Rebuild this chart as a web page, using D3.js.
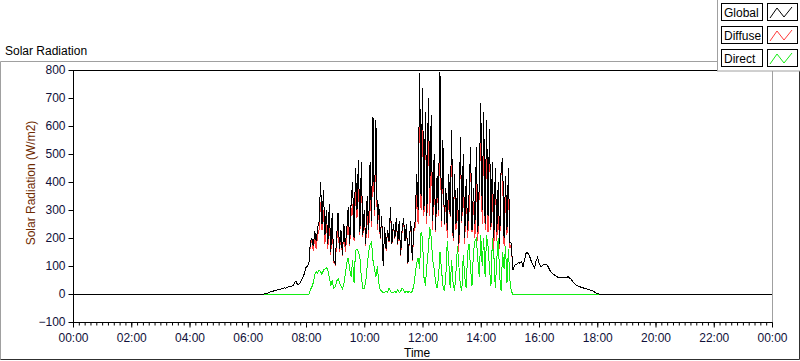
<!DOCTYPE html>
<html>
<head>
<meta charset="utf-8">
<script src="https://cdn.jsdelivr.net/npm/d3@7"></script>
<style>
html,body{margin:0;padding:0;background:#fff;}
svg{display:block;font-family:"Liberation Sans",Arial,sans-serif;}
</style>
</head>
<body>
<svg id="chart" width="800" height="361"></svg>
<script>
// ---- data ----
const chartTitle = "Solar Radiation";
const yAxisTitle = "Solar Radiation (W/m2)";
const xAxisTitle = "Time";
const seriesNames = ["Global", "Diffuse", "Direct"];
const xTickLabels = ["00:00","02:00","04:00","06:00","08:00","10:00","12:00","14:00","16:00","18:00","20:00","22:00","00:00"];
const yTickValues = [-100,0,100,200,300,400,500,600,700,800];
const dayMinutes = 1440;
const startMin = 390;   // first sample 06:30
const stepMin = 3;      // sample spacing, minutes

const globalVals = [
0,0,1,2,4,6,8,10,11,12,14,15,17,18,20,22,21,24,26,25,28,30,38,46,36,34,40,52,60,75,
95,100,110,185,200,170,225,190,235,260,400,250,370,210,300,180,320,150,290,120,
110,200,290,160,230,140,250,170,230,310,180,330,400,200,450,300,480,220,470,210,
300,180,350,230,470,260,632,300,622,250,320,200,280,100,240,160,230,190,310,180,
250,200,270,180,260,140,230,270,190,250,110,200,260,120,230,260,430,300,790,350,
735,300,650,280,700,380,640,260,500,230,420,300,793,260,550,250,380,230,430,280,
585,200,430,250,380,180,560,260,500,200,410,230,360,525,230,380,250,525,220,400,
682,300,650,250,620,280,590,240,470,200,450,220,400,180,454,485,200,420,230,450,185,180,85,100,
105,108,112,110,116,96,120,145,149,140,128,112,102,92,118,131,112,98,100,106,
107,106,100,90,80,74,70,67,63,60,59,58,58,59,61,58,62,57,54,45,
40,34,31,28,26,24,22,21,19,18,16,14,13,11,8,4,1,0,0,0
];
const diffuseVals = [
0,0,1,2,4,6,8,10,11,12,14,15,17,18,20,22,21,24,26,25,28,30,38,46,36,34,40,52,60,75,
95,100,110,178,190,155,200,160,210,230,330,230,300,180,260,160,270,140,260,115,
105,180,250,150,220,135,240,150,200,260,170,290,320,190,380,270,410,210,430,205,
295,170,310,200,400,240,560,280,590,230,305,195,275,100,235,155,225,185,300,178,
248,195,268,175,258,135,225,265,188,245,108,195,258,118,220,240,360,250,720,300,
600,280,640,250,620,280,560,230,460,220,410,280,700,240,530,245,350,200,390,275,
520,190,425,230,330,150,540,255,440,180,400,200,300,480,220,330,200,440,190,370,
580,250,560,230,520,220,550,230,390,160,440,190,310,160,450,420,170,350,210,390,165,175,85,100,
105,108,112,110,116,96,120,145,149,140,128,112,102,92,118,131,112,98,100,106,
107,106,100,90,80,74,70,67,63,60,59,58,58,59,61,58,62,57,54,45,
40,34,31,28,26,24,22,21,19,18,16,14,13,11,8,4,1,0,0,0
];
const directVals = [
0,0,0,0,0,0,0,0,0,0,0,0,0,0,0,0,0,0,0,0,0,0,0,0,0,0,0,0,0,0,
0,0,0,15,25,40,70,80,75,85,80,70,85,90,95,85,60,30,50,20,
25,45,55,40,30,20,35,70,110,130,90,60,120,40,155,160,150,130,60,20,
20,40,100,150,175,185,120,90,60,100,40,15,10,5,5,10,5,20,10,5,
5,10,5,15,5,10,20,15,5,10,5,10,5,10,30,70,110,130,90,220,
200,60,30,100,160,240,200,120,90,40,20,60,150,90,30,10,60,190,120,20,
120,40,10,80,170,100,30,10,140,60,20,150,180,90,30,150,190,200,120,60,
210,100,200,60,210,170,90,30,200,140,20,120,200,60,10,150,90,170,40,160,50,10,0,0,
0,0,0,0,0,0,0,0,0,0,0,0,0,0,0,0,0,0,0,0,
0,0,0,0,0,0,0,0,0,0,0,0,0,0,0,0,0,0,0,0,
0,0,0,0,0,0,0,0,0,0,0,0,0,0,0,0,0,0,0,0
];

// ---- layout ----
const L = 73, R = 772, T = 70, B = 322;
const colors = {Global:"#000000", Diffuse:"#ff3c3c", Direct:"#14ec14"};
const svg = d3.select("#chart");

const x = d3.scaleLinear().domain([0, dayMinutes]).range([L, R]);
const y = d3.scaleLinear().domain([-100, 800]).range([B, T]);

function toSeries(vals){
  const pts = [{t:0, v:0}];
  vals.forEach((v,i)=>pts.push({t:startMin + i*stepMin, v:v}));
  pts.push({t:dayMinutes, v:0});
  return pts;
}
const series = {Global: toSeries(globalVals), Diffuse: toSeries(diffuseVals), Direct: toSeries(directVals)};

// outer panel
svg.append("line").attr("x1",0.5).attr("x2",799.5).attr("y1",61.5).attr("y2",61.5).attr("stroke","#a0a0a0");
svg.append("line").attr("x1",0.5).attr("x2",0.5).attr("y1",61.5).attr("y2",359.5).attr("stroke","#a0a0a0");
svg.append("line").attr("x1",0.5).attr("x2",799.5).attr("y1",359.5).attr("y2",359.5).attr("stroke","#303030");
svg.append("line").attr("x1",799.5).attr("x2",799.5).attr("y1",61.5).attr("y2",359.5).attr("stroke","#303030");

svg.append("text").attr("x",5).attr("y",55).attr("font-size",12).attr("fill","#000").text(chartTitle);

// plot background
svg.append("rect").attr("x",L).attr("y",T).attr("width",R-L).attr("height",B-T).attr("fill","#fff");

svg.append("defs").append("clipPath").attr("id","clip")
  .append("rect").attr("x",L).attr("y",T).attr("width",R-L+1).attr("height",B-T);

const line = d3.line().x(d=>x(d.t)).y(d=>y(d.v));
const g = svg.append("g").attr("clip-path","url(#clip)");
["Direct","Diffuse","Global"].forEach(name=>{
  g.append("path").datum(series[name]).attr("d",line)
    .attr("fill","none").attr("stroke",colors[name]).attr("stroke-width",1)
    .attr("shape-rendering","crispEdges");
});

// frame
svg.append("line").attr("x1",L).attr("x2",R+0.5).attr("y1",T+0.5).attr("y2",T+0.5).attr("stroke","#000");
svg.append("line").attr("x1",R+0.5).attr("x2",R+0.5).attr("y1",T).attr("y2",B+0.5).attr("stroke","#a0a0a0");

// y axis
const yAxis = d3.axisLeft(y).tickValues(yTickValues).tickSize(5).tickPadding(3).tickFormat(d3.format("d"));
const ya = svg.append("g").attr("transform",`translate(${L+0.5},0)`).call(yAxis);
ya.select(".domain").attr("stroke","#000").attr("d",`M0,${T}V${B+0.5}`);
ya.selectAll(".tick line").attr("stroke","#000");
ya.selectAll("text").attr("font-size",12).attr("font-family","Liberation Sans, Arial, sans-serif").attr("fill","#10103a");

// x axis: minor ticks
const minorVals = d3.range(0, dayMinutes+1, 12);
const xMinor = d3.axisBottom(x).tickValues(minorVals).tickSize(3).tickFormat("");
const xm = svg.append("g").attr("transform",`translate(0,${B+0.5})`).call(xMinor);
xm.select(".domain").remove();
xm.selectAll(".tick line").attr("stroke","#000");

const majorVals = xTickLabels.map((_,i)=>i*120);
const xAxis = d3.axisBottom(x).tickValues(majorVals).tickSize(5).tickPadding(6)
  .tickFormat((d,i)=>xTickLabels[i]);
const xa = svg.append("g").attr("transform",`translate(0,${B+0.5})`).call(xAxis);
xa.select(".domain").attr("stroke","#000").attr("d",`M${L},0H${R+0.5}`);
xa.selectAll(".tick line").attr("stroke","#000");
xa.selectAll("text").attr("font-size",12).attr("font-family","Liberation Sans, Arial, sans-serif").attr("fill","#10103a");

// axis titles
svg.append("text").attr("transform","translate(35,183) rotate(-90)").attr("text-anchor","middle")
  .attr("font-size",12).attr("fill","#6e2a00").text(yAxisTitle);
svg.append("text").attr("x",404).attr("y",357).attr("font-size",12).attr("fill","#000").text(xAxisTitle);

// legend
const lg = svg.append("g");
lg.append("rect").attr("x",717.5).attr("y",-1).attr("width",90).attr("height",72).attr("fill","#fff").attr("stroke","#a0a0a0");
seriesNames.forEach((name,i)=>{
  const yy = 3 + i*23;
  lg.append("rect").attr("x",721.5).attr("y",yy+0.5).attr("width",41).attr("height",17)
    .attr("fill","#fff").attr("stroke","#000");
  lg.append("text").attr("x",724).attr("y",yy+14).attr("font-size",12).attr("fill","#000").text(name);
  lg.append("rect").attr("x",767.5).attr("y",yy+0.5).attr("width",30).attr("height",17)
    .attr("fill","#fff").attr("stroke","#000");
  const sw = [[770,yy+15],[777,yy+5],[784,yy+14],[792,yy+4]];
  lg.append("path").attr("d",d3.line()(sw)).attr("fill","none").attr("stroke",colors[name]).attr("stroke-width",1);
});
</script>
</body>
</html>
